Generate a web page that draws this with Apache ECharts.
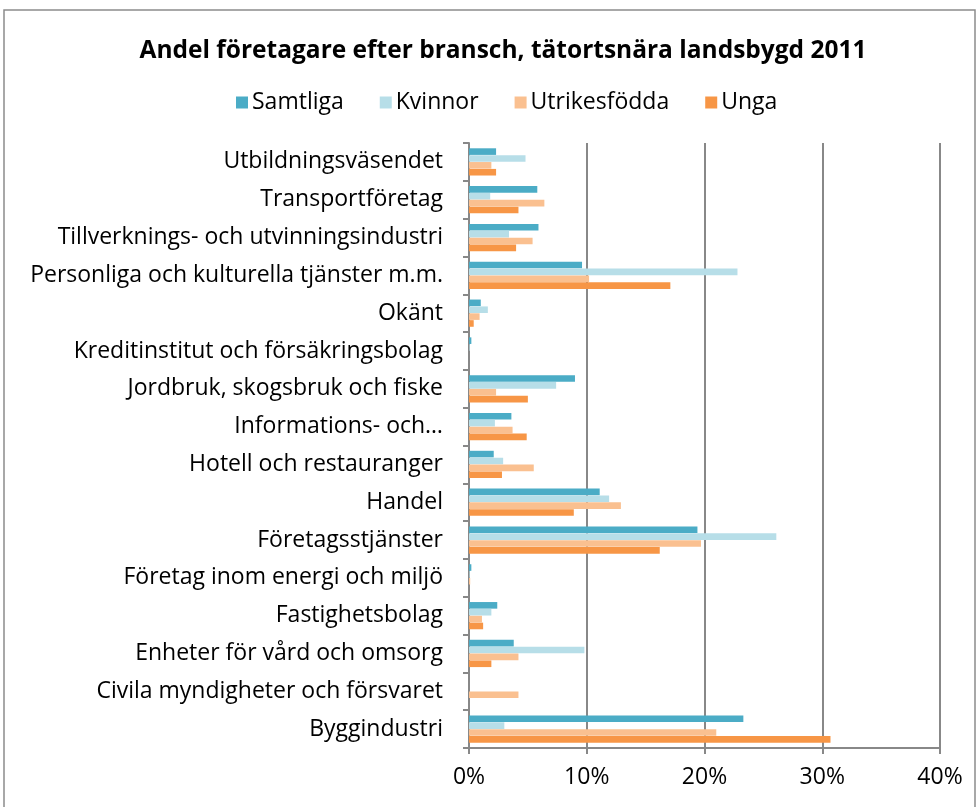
<!DOCTYPE html>
<html><head><meta charset="utf-8">
<script src="https://cdn.jsdelivr.net/npm/echarts@6/dist/echarts.min.js"></script>
<style>html,body{margin:0;padding:0;background:#fff}#c{width:978px;height:807px}</style>
</head><body><div id="c"></div>
<script>
const categories = ["Utbildningsväsendet","Transportföretag","Tillverknings- och utvinningsindustri","Personliga och kulturella tjänster m.m.","Okänt","Kreditinstitut och försäkringsbolag","Jordbruk, skogsbruk och fiske","Informations- och…","Hotell och restauranger","Handel","Företagsstjänster","Företag inom energi och miljö","Fastighetsbolag","Enheter för vård och omsorg","Civila myndigheter och försvaret","Byggindustri"];
const samtliga = [2.3,5.8,5.9,9.6,1.0,0.2,9.0,3.6,2.1,11.1,19.4,0.2,2.4,3.8,0,23.3];
const kvinnor = [4.8,1.8,3.4,22.8,1.6,0.05,7.4,2.2,2.9,11.9,26.1,0.05,1.9,9.8,0,3.0];
const utrikes = [1.9,6.4,5.4,10.2,0.9,0,2.3,3.7,5.5,12.9,19.7,0.1,1.1,4.2,4.2,21.0];
const unga = [2.3,4.2,4.0,17.1,0.4,0,5.0,4.9,2.8,8.9,16.2,0,1.2,1.9,0,30.7];
const seriesNames = ["Samtliga","Kvinnor","Utrikesfödda","Unga"];
const colors = ["#4BACC6","#B7DEE8","#FAC090","#F79646"];
const xTicks = [0,10,20,30,40];

const chart = echarts.init(document.getElementById('c'));
const font = '"Open Sans", sans-serif';
const data = [samtliga,kvinnor,utrikes,unga];
chart.setOption({
  animation:false,
  title:{text:'Andel företagare efter bransch, tätortsnära landsbygd 2011',left:498,top:34,textAlign:'center',
    textStyle:{fontFamily:font,fontWeight:'bold',fontSize:24.5,color:'#000'}},
  legend:{data:seriesNames,left:231,top:86,itemWidth:12,itemHeight:12,itemGap:36,icon:'rect',
    textStyle:{fontFamily:font,fontSize:23,color:'#000',padding:[0,0,0,-1]}},
  grid:{left:469,right:38,top:143,bottom:59},
  xAxis:{type:'value',min:xTicks[0],max:xTicks[xTicks.length-1],interval:10,
    axisLine:{show:true,lineStyle:{color:'#888',width:2}},
    axisTick:{show:true,length:6,lineStyle:{color:'#888',width:2}},
    axisLabel:{formatter:v=>v+'%',fontFamily:font,fontSize:23,color:'#000',margin:18},
    splitLine:{show:true,lineStyle:{color:'#888',width:2}}},
  yAxis:{type:'category',data:categories,inverse:true,
    axisLine:{show:true,lineStyle:{color:'#888',width:2}},
    axisTick:{show:true,length:6,lineStyle:{color:'#888',width:2}},
    axisLabel:{fontFamily:font,fontSize:23,color:'#000',margin:26}},
  series:seriesNames.map((n,i)=>({name:n,type:'bar',data:data[i],barCategoryGap:'28%',barGap:'4%',
    itemStyle:{color:colors[i]}})),
  graphic:[{type:'rect',shape:{x:4,y:10,width:971,height:800},style:{fill:'none',stroke:'#8c8c8c',lineWidth:1.5},z:-1}]
});
</script></body></html>
